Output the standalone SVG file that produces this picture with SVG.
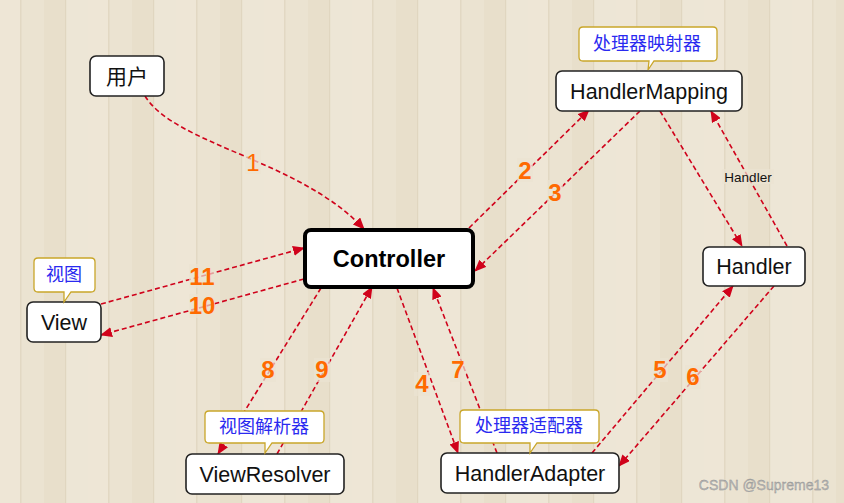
<svg xmlns="http://www.w3.org/2000/svg" width="844" height="503" viewBox="0 0 844 503">
<defs>
<pattern id="wood" x="0" y="0" width="88" height="503" patternUnits="userSpaceOnUse">
<rect x="0" y="0" width="88" height="503" fill="#ebe3d1"/>
<rect x="0" y="0" width="20" height="503" fill="#eee6d6"/>
<rect x="20" y="0" width="1.5" height="503" fill="#e2d8c3"/>
<rect x="44" y="0" width="22" height="503" fill="#e8dfcb"/>
<rect x="65" y="0" width="1.2" height="503" fill="#e0d6c0"/>
<rect x="66.5" y="0" width="21.5" height="503" fill="#ede6d6"/>
</pattern>
<marker id="ah" markerWidth="12" markerHeight="10" refX="11" refY="5" orient="auto" markerUnits="userSpaceOnUse">
<path d="M0,0 L12,5 L0,10 Z" fill="#d0021b"/>
</marker>
<style>
.box{fill:#fff;stroke:#222;stroke-width:1.6}
.ctl{fill:#fff;stroke:#000;stroke-width:4}
.nt{font-family:"Liberation Sans",Arial,sans-serif;font-size:21.5px;fill:#111;text-anchor:middle}
.ct{font-family:"Liberation Sans",Arial,sans-serif;font-size:23.5px;font-weight:bold;fill:#000;text-anchor:middle}
.cjk{font-family:"Noto Sans CJK SC",sans-serif;font-size:21px;fill:#111;text-anchor:middle}
.co{fill:#fff;stroke:#c9a62a;stroke-width:1.3}
.cot{font-family:"Noto Sans CJK SC",sans-serif;font-size:18px;fill:#2a2af0;text-anchor:middle}
.ln{fill:none;stroke:#d0021b;stroke-width:1.6;stroke-dasharray:5 3;marker-end:url(#ah)}
.lb{font-family:"Liberation Sans",Arial,sans-serif;font-size:24px;font-weight:bold;fill:#ff6a00;text-anchor:middle}
.lbbg{fill:#ebe3d1;opacity:0.7}
</style>
</defs>
<rect width="844" height="503" fill="url(#wood)"/>

<g id="connectors">
<path class="ln" d="M145,96 C175,145 300,160 364,229"/>
<path class="ln" d="M469,228 L589,110"/>
<path class="ln" d="M640,111 L475,271"/>
<path class="ln" d="M660,111 L742,246"/>
<path class="ln" d="M787,246 L711,111"/>
<path class="ln" d="M397,288 L458,453"/>
<path class="ln" d="M497,453 L433,288"/>
<path class="ln" d="M592,453 L733,286"/>
<path class="ln" d="M774,286 L619,466"/>
<path class="ln" d="M321,288 L218,454"/>
<path class="ln" d="M277,454 L372,287"/>
<path class="ln" d="M101,304 L304,248"/>
<path class="ln" d="M304,279 L101,335"/>
</g>

<g id="labels">
<rect class="lbbg" x="245" y="150" width="16" height="24"/>
<text class="lb" x="253" y="171" style="font-weight:normal">1</text>
<rect class="lbbg" x="517" y="158" width="16" height="24"/>
<text class="lb" x="525" y="179">2</text>
<rect class="lbbg" x="547" y="180" width="16" height="24"/>
<text class="lb" x="555" y="201">3</text>
<rect class="lbbg" x="414" y="372" width="16" height="24"/>
<text class="lb" x="422" y="392">4</text>
<rect class="lbbg" x="652" y="358" width="16" height="24"/>
<text class="lb" x="660" y="378">5</text>
<rect class="lbbg" x="685" y="365" width="16" height="24"/>
<text class="lb" x="693" y="385">6</text>
<rect class="lbbg" x="450" y="358" width="16" height="24"/>
<text class="lb" x="458" y="378">7</text>
<rect class="lbbg" x="260" y="358" width="16" height="24"/>
<text class="lb" x="268" y="378">8</text>
<rect class="lbbg" x="314" y="358" width="16" height="24"/>
<text class="lb" x="322" y="378">9</text>
<rect class="lbbg" x="189" y="264" width="26" height="24"/>
<text class="lb" x="202" y="285">11</text>
<rect class="lbbg" x="189" y="294" width="26" height="24"/>
<text class="lb" x="202" y="314">10</text>
<rect class="lbbg" x="722" y="169" width="52" height="15"/>
<text x="748" y="182" font-family="Liberation Sans, Arial, sans-serif" font-size="13.5" fill="#111" text-anchor="middle">Handler</text>
</g>

<g id="user">
<rect class="box" x="90" y="56" width="74" height="40" rx="6"/>
<text class="cjk" x="127" y="83.5">用户</text>
</g>

<g id="controller">
<rect class="ctl" x="305" y="230" width="168" height="57" rx="6"/>
<text class="ct" x="389" y="267">Controller</text>
</g>

<g id="handlerMapping">
<rect class="box" x="556" y="71" width="186" height="40" rx="6"/>
<text class="nt" x="649" y="98.5">HandlerMapping</text>
</g>
<g id="callout-hm">
<path class="co" d="M583,27 H713 Q717,27 717,31 V57 Q717,61 713,61 H654 L648,70 L649,61 H583 Q579,61 579,57 V31 Q579,27 583,27 Z"/>
<text class="cot" x="647" y="50">处理器映射器</text>
</g>

<g id="handler">
<rect class="box" x="703" y="247" width="102" height="39" rx="6"/>
<text class="nt" x="754" y="274">Handler</text>
</g>

<g id="view">
<rect class="box" x="27" y="302" width="74" height="40" rx="6"/>
<text class="nt" x="64" y="329.5">View</text>
</g>
<g id="callout-view">
<path class="co" d="M38,258 H91 Q95,258 95,262 V288 Q95,292 91,292 H71 L64,302 L64,292 H38 Q34,292 34,288 V262 Q34,258 38,258 Z"/>
<text class="cot" x="64" y="281">视图</text>
</g>

<g id="viewResolver">
<rect class="box" x="186" y="454" width="158" height="40" rx="6"/>
<text class="nt" x="265" y="481.5">ViewResolver</text>
</g>
<g id="callout-vr">
<path class="co" d="M209,411 H320 Q324,411 324,415 V439 Q324,443 320,443 H272 L265,453 L265,443 H209 Q205,443 205,439 V415 Q205,411 209,411 Z"/>
<text class="cot" x="264" y="433">视图解析器</text>
</g>

<g id="handlerAdapter">
<rect class="box" x="441" y="453" width="178" height="40" rx="6"/>
<text class="nt" x="530" y="480.5">HandlerAdapter</text>
</g>
<g id="callout-ha">
<path class="co" d="M464,410 H595 Q599,410 599,414 V439 Q599,443 595,443 H537 L530,453 L530,443 H464 Q460,443 460,439 V414 Q460,410 464,410 Z"/>
<text class="cot" x="529" y="432">处理器适配器</text>
</g>

<text x="829" y="490" font-family="Liberation Sans, Arial, sans-serif" font-size="14" fill="#b8b8b8" stroke="#8a8a8a" stroke-width="0.3" text-anchor="end">CSDN @Supreme13</text>
</svg>
